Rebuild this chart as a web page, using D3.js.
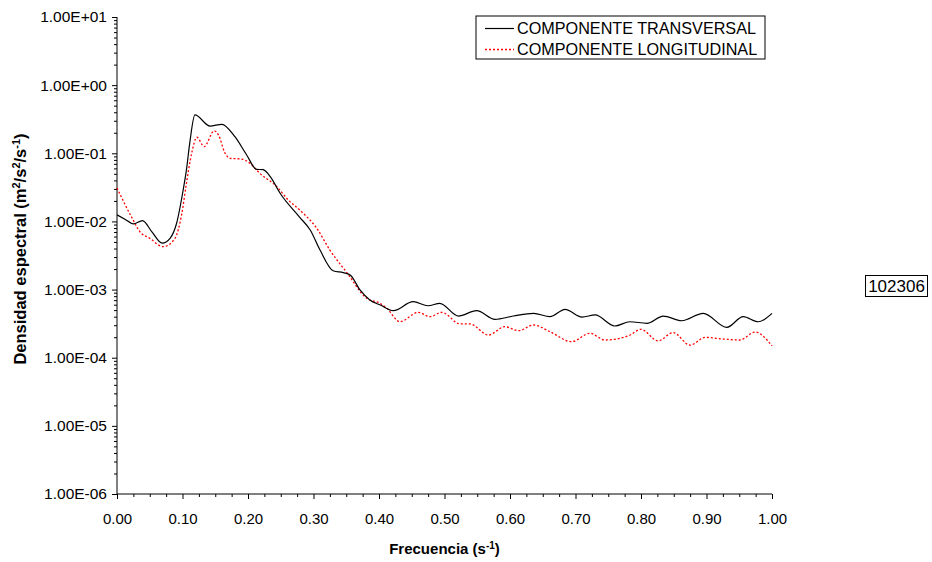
<!DOCTYPE html>
<html><head><meta charset="utf-8">
<script src="https://cdn.jsdelivr.net/npm/d3@7"></script>
<style>body{margin:0;background:#fff}svg{display:block}</style>
</head><body>
<svg id="c" width="932" height="562"></svg>
<script>
// ---- data ----
const transFreq = [0.000,0.012,0.025,0.039,0.053,0.069,0.081,0.091,0.101,0.106,0.111,0.119,0.142,0.160,0.180,0.198,0.213,0.223,0.234,0.249,0.279,0.295,0.310,0.330,0.3455,0.356,0.371,0.386,0.402,0.422,0.452,0.475,0.493,0.521,0.549,0.577,0.605,0.636,0.661,0.684,0.710,0.730,0.760,0.783,0.809,0.834,0.862,0.895,0.931,0.956,0.979,1.000];
const transVal = [1.25e-2,1.08e-2,9.2e-3,1.03e-2,7.1e-3,4.8e-3,5.65e-3,9.4e-3,2.89e-2,5.7e-2,0.140,0.365,0.251,0.266,0.175,0.0944,0.0582,0.0575,0.0453,0.0259,0.0115,7.48e-3,3.80e-3,1.89e-3,1.77e-3,1.64e-3,9.86e-4,7.03e-4,5.93e-4,4.90e-4,6.64e-4,5.79e-4,6.28e-4,4.09e-4,4.90e-4,3.66e-4,4.09e-4,4.48e-4,4.00e-4,5.13e-4,3.95e-4,4.24e-4,2.92e-4,3.37e-4,3.20e-4,4.09e-4,3.49e-4,4.48e-4,2.79e-4,4.00e-4,3.37e-4,4.48e-4];
const longFreq = [0.000,0.022,0.035,0.050,0.0707,0.0885,0.099,0.106,0.114,0.122,0.133,0.1485,0.155,0.165,0.1725,0.190,0.203,0.218,0.244,0.2615,0.279,0.305,0.325,0.351,0.381,0.4015,0.412,0.432,0.460,0.478,0.496,0.524,0.539,0.567,0.592,0.613,0.636,0.661,0.694,0.722,0.745,0.781,0.800,0.826,0.849,0.875,0.898,0.926,0.951,0.974,1.000];
const longVal = [3.09e-2,1.17e-2,7.06e-3,5.65e-3,4.26e-3,5.65e-3,1.31e-2,3.62e-2,0.100,0.172,0.125,0.214,0.185,0.100,0.0843,0.0824,0.0713,0.0508,0.0324,0.0206,0.0147,7.92e-3,3.80e-3,1.77e-3,7.45e-4,6.28e-4,5.31e-4,3.37e-4,4.63e-4,4.00e-4,4.63e-4,3.13e-4,3.13e-4,2.15e-4,2.85e-4,2.49e-4,3.02e-4,2.41e-4,1.72e-4,2.28e-4,1.82e-4,2.10e-4,2.61e-4,1.77e-4,2.33e-4,1.53e-4,1.99e-4,1.88e-4,1.82e-4,2.38e-4,1.49e-4];
const yTickValues = [1e-6,1e-5,1e-4,1e-3,1e-2,1e-1,1e0,1e1];
const yTickLabels = ["1.00E-06","1.00E-05","1.00E-04","1.00E-03","1.00E-02","1.00E-01","1.00E+00","1.00E+01"];
const xTickValues = [0,0.1,0.2,0.3,0.4,0.5,0.6,0.7,0.8,0.9,1.0];
const xTickLabels = ["0.00","0.10","0.20","0.30","0.40","0.50","0.60","0.70","0.80","0.90","1.00"];
const seriesNames = ["COMPONENTE TRANSVERSAL","COMPONENTE LONGITUDINAL"];
const tagText = "102306";

// ---- drawing ----
const svg = d3.select("#c");
const font = "Liberation Sans, Arial, sans-serif";
const L = 117, R = 772, T = 17, B = 494;
const x = d3.scaleLinear().domain([0,1]).range([L,R]);
const y = d3.scaleLog().domain([1e-6,1e1]).range([B,T]);

// y axis: minor ticks
const minor = [];
for (let e=-6;e<1;e++) for (let k=2;k<=9;k++) minor.push(k*Math.pow(10,e));
const yMinor = d3.axisLeft(y).tickValues(minor).tickSize(3).tickFormat("");
svg.append("g").attr("transform",`translate(${L},0)`).call(yMinor)
  .call(g=>g.select(".domain").remove());
const yAxis = d3.axisLeft(y).tickValues(yTickValues).tickSize(5).tickPadding(5)
  .tickFormat((d,i)=>yTickLabels[i]);
const gy = svg.append("g").attr("transform",`translate(${L},0)`).call(yAxis);
gy.selectAll("text").attr("font-family",font).attr("font-size",15.5).attr("fill","#000");
gy.select(".domain").attr("d",`M0,${T}V${B}`);

// x axis minor ticks
const xMinorVals = d3.range(0,41).map(i=>i*0.025).filter((d,i)=>i%4!==0);
svg.append("g").attr("transform",`translate(0,${B})`)
  .call(d3.axisBottom(x).tickValues(xMinorVals).tickSize(3).tickFormat(""))
  .call(g=>g.select(".domain").remove());
const gx = svg.append("g").attr("transform",`translate(0,${B})`)
  .call(d3.axisBottom(x).tickValues(xTickValues).tickSize(5).tickPadding(14)
  .tickFormat((d,i)=>xTickLabels[i]));
gx.selectAll("text").attr("font-family",font).attr("font-size",15).attr("fill","#000");
gx.select(".domain").attr("d",`M${L},0H${R}`);
svg.selectAll(".tick line").attr("stroke","#000");
svg.selectAll(".domain").attr("stroke","#000");

// lines
const line = d3.line().x(d=>x(d[0])).y(d=>y(d[1])).curve(d3.curveMonotoneX);
const transData = transFreq.map((f,i)=>[f,transVal[i]]);
const longData = longFreq.map((f,i)=>[f,longVal[i]]);
svg.append("path").datum(longData).attr("d",line).attr("fill","none")
  .attr("stroke","#ff0000").attr("stroke-width",1.3).attr("stroke-dasharray","2,2");
svg.append("path").datum(transData).attr("d",line).attr("fill","none")
  .attr("stroke","#000").attr("stroke-width",1.2);

// legend
const lg = svg.append("g");
lg.append("rect").attr("x",476).attr("y",16).attr("width",289).attr("height",43)
  .attr("fill","#fff").attr("stroke","#000").attr("stroke-width",1);
const ly = [28.5, 49.5];
lg.append("line").attr("x1",485).attr("x2",514).attr("y1",ly[0]).attr("y2",ly[0]).attr("stroke","#000").attr("stroke-width",1.2);
lg.append("line").attr("x1",485).attr("x2",514).attr("y1",ly[1]).attr("y2",ly[1]).attr("stroke","#ff0000").attr("stroke-width",1.3).attr("stroke-dasharray","2,2");
seriesNames.forEach((n,i)=>{
  lg.append("text").attr("x",517).attr("y",ly[i]).attr("dy","0.35em")
    .attr("font-family",font).attr("font-size",16.2).attr("fill","#000").text(n);
});

// tag box
svg.append("rect").attr("x",865.5).attr("y",275.5).attr("width",62).attr("height",21)
  .attr("fill","#fff").attr("stroke","#000").attr("stroke-width",1);
svg.append("text").attr("x",896.5).attr("y",286).attr("dy","0.35em").attr("text-anchor","middle")
  .attr("font-family",font).attr("font-size",17).attr("fill","#000").text(tagText);

// axis titles
const xt = svg.append("text").attr("x",(L+R)/2).attr("y",554).attr("text-anchor","middle")
  .attr("font-family",font).attr("font-size",15).attr("font-weight","bold").attr("fill","#000");
xt.append("tspan").text("Frecuencia (s");
xt.append("tspan").attr("baseline-shift","super").attr("font-size",10).text("-1");
xt.append("tspan").text(")");

const yt = svg.append("text").attr("transform",`translate(26,249) rotate(-90)`)
  .attr("text-anchor","middle")
  .attr("font-family",font).attr("font-size",16.5).attr("font-weight","bold").attr("fill","#000");
yt.append("tspan").text("Densidad espectral (m");
yt.append("tspan").attr("baseline-shift","super").attr("font-size",11).text("2");
yt.append("tspan").text("/s");
yt.append("tspan").attr("baseline-shift","super").attr("font-size",11).text("2");
yt.append("tspan").text("/s");
yt.append("tspan").attr("baseline-shift","super").attr("font-size",11).text("-1");
yt.append("tspan").text(")");
</script>
</body></html>
